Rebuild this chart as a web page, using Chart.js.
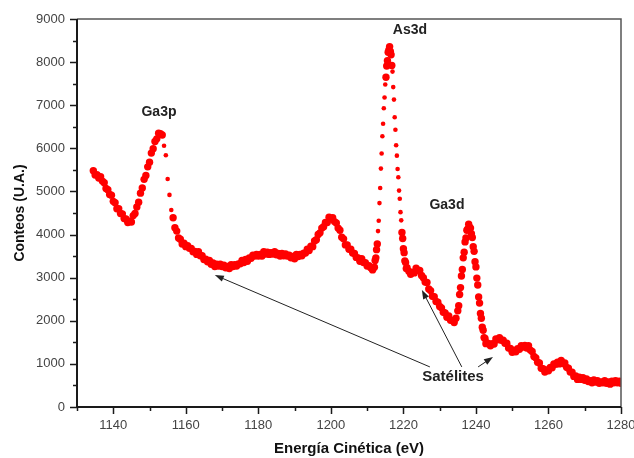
<!DOCTYPE html>
<html lang="es">
<head>
<meta charset="UTF-8">
<title>Espectro Auger - GaAs</title>
<script src="https://cdn.jsdelivr.net/npm/chart.js"></script>
<style>
  html, body { margin: 0; padding: 0; background: #fff; }
  #caja { width: 634px; height: 458px; }
</style>
</head>
<body>
<div id="caja"><canvas id="espectro"></canvas></div>
<script>
const energia = [
  1134.5, 1135, 1135.5, 1136, 1136.5, 1137, 1137.5, 1138, 1138.5, 1139, 1139.5, 1140,
  1140.5, 1141, 1141.5, 1142, 1142.5, 1143, 1143.5, 1144, 1144.5, 1145, 1145.5, 1146,
  1146.5, 1147, 1147.5, 1148, 1148.5, 1149, 1149.5, 1150, 1150.5, 1151, 1151.5, 1152,
  1152.5, 1153, 1153.5, 1154, 1154.5, 1155, 1155.5, 1156, 1156.5, 1157, 1157.5, 1158,
  1158.5, 1159, 1159.5, 1160, 1160.5, 1161, 1161.5, 1162, 1162.5, 1163, 1163.5, 1164,
  1164.5, 1165, 1165.5, 1166, 1166.5, 1167, 1167.5, 1168, 1168.5, 1169, 1169.5, 1170,
  1170.5, 1171, 1171.5, 1172, 1172.5, 1173, 1173.5, 1174, 1174.5, 1175, 1175.5, 1176,
  1176.5, 1177, 1177.5, 1178, 1178.5, 1179, 1179.5, 1180, 1180.5, 1181, 1181.5, 1182,
  1182.5, 1183, 1183.5, 1184, 1184.5, 1185, 1185.5, 1186, 1186.5, 1187, 1187.5, 1188,
  1188.5, 1189, 1189.5, 1190, 1190.5, 1191, 1191.5, 1192, 1192.5, 1193, 1193.5, 1194,
  1194.5, 1195, 1195.5, 1196, 1196.5, 1197, 1197.5, 1198, 1198.5, 1199, 1199.5, 1200,
  1200.5, 1201, 1201.5, 1202, 1202.5, 1203, 1203.5, 1204, 1204.5, 1205, 1205.5, 1206,
  1206.5, 1207, 1207.5, 1208, 1208.5, 1209, 1209.5, 1210, 1210.5, 1211, 1211.5,
  1212.0, 1212.2, 1212.4, 1212.6, 1212.8, 1213.0, 1213.2, 1213.4, 1213.6, 1213.8,
  1214.0, 1214.2, 1214.4, 1214.6, 1214.8, 1215.0, 1215.2, 1215.4, 1215.6, 1215.8,
  1216.0, 1216.2, 1216.4, 1216.6, 1216.8, 1217.0, 1217.2, 1217.4, 1217.6, 1217.8,
  1218.0, 1218.2, 1218.4, 1218.6, 1218.8, 1219.0, 1219.2, 1219.4, 1219.6, 1219.8,
  1220.0, 1220.2, 1220.4, 1220.6, 1220.8, 1221.0,
  1221.5, 1222, 1222.5, 1223, 1223.5, 1224, 1224.5, 1225, 1225.5, 1226, 1226.5, 1227,
  1227.5, 1228, 1228.5, 1229, 1229.5, 1230, 1230.5, 1231, 1231.5, 1232, 1232.5, 1233,
  1233.5, 1234, 1234.5,
  1235, 1235.25, 1235.5, 1235.75, 1236, 1236.25, 1236.5, 1236.75, 1237, 1237.25,
  1237.5, 1237.75, 1238, 1238.25, 1238.5, 1238.75, 1239, 1239.25, 1239.5, 1239.75,
  1240, 1240.25, 1240.5, 1240.75, 1241, 1241.25, 1241.5, 1241.75, 1242, 1242.25,
  1242.5, 1242.75, 1243,
  1243.5, 1244, 1244.5, 1245, 1245.5, 1246, 1246.5, 1247, 1247.5, 1248, 1248.5, 1249,
  1249.5, 1250, 1250.5, 1251, 1251.5, 1252, 1252.5, 1253, 1253.5, 1254, 1254.5, 1255,
  1255.5, 1256, 1256.5, 1257, 1257.5, 1258, 1258.5, 1259, 1259.5, 1260, 1260.5, 1261,
  1261.5, 1262, 1262.5, 1263, 1263.5, 1264, 1264.5, 1265, 1265.5, 1266, 1266.5, 1267,
  1267.5, 1268, 1268.5, 1269, 1269.5, 1270, 1270.5, 1271, 1271.5, 1272, 1272.5, 1273,
  1273.5, 1274, 1274.5, 1275, 1275.5, 1276, 1276.5, 1277, 1277.5, 1278, 1278.5, 1279,
  1279.5, 1280
];

const conteos = [
  5480, 5380, 5390, 5310, 5340, 5240, 5200, 5070, 5040, 4930, 4910, 4770,
  4740, 4600, 4600, 4490, 4480, 4370, 4360, 4280, 4310, 4290, 4440, 4490,
  4640, 4750, 4960, 5080, 5280, 5370, 5570, 5680, 5890, 5990, 6160, 6220,
  6350, 6340, 6310, 6060, 5840, 5290, 4920, 4570, 4390, 4160, 4080, 3920,
  3890, 3780, 3800, 3720, 3740, 3680, 3680, 3600, 3610, 3540, 3600, 3510,
  3510, 3420, 3430, 3370, 3400, 3310, 3340, 3260, 3310, 3270, 3310, 3260,
  3290, 3230, 3260, 3210, 3300, 3260, 3300, 3270, 3320, 3320, 3400, 3350,
  3420, 3380, 3460, 3450, 3520, 3500, 3540, 3500, 3540, 3500, 3600, 3550,
  3590, 3540, 3580, 3550, 3600, 3530, 3560, 3500, 3560, 3510, 3550, 3500,
  3520, 3460, 3490, 3440, 3540, 3490, 3540, 3510, 3570, 3570, 3660, 3630,
  3730, 3720, 3850, 3880, 4000, 4040, 4150, 4180, 4280, 4280, 4400, 4370,
  4390, 4300, 4270, 4150, 4100, 3940, 3900, 3760, 3760, 3660, 3660, 3570,
  3560, 3470, 3460, 3380, 3440, 3350, 3350, 3270, 3280, 3230, 3180,
  3240, 3400, 3460, 3650, 3780, 4080, 4320, 4730, 5080, 5530,
  5880, 6280, 6570, 6930, 7180, 7480, 7650, 7910, 8030, 8230,
  8280, 8360, 8250, 8170, 7920, 7780, 7420, 7130, 6720, 6430,
  6070, 5830, 5520, 5330, 5020, 4830, 4520, 4330, 4050, 3910,
  3670, 3580, 3390, 3350, 3210, 3230,
  3150, 3080, 3120, 3110, 3220, 3170, 3170, 3050, 3000, 2900, 2890, 2740,
  2700, 2570, 2560, 2450, 2430, 2330, 2300, 2200, 2180, 2080, 2110, 2010,
  2010, 1960, 2060,
  2230, 2350, 2610, 2770, 3040, 3190, 3460, 3590, 3830, 3920,
  4100, 4130, 4240, 4170, 4150, 4020, 3930, 3720, 3610, 3370,
  3250, 2990, 2830, 2550, 2410, 2170, 2060, 1850, 1780, 1610,
  1590, 1470, 1490,
  1470, 1420, 1470, 1460, 1580, 1560, 1610, 1550, 1550, 1480, 1480, 1370,
  1360, 1270, 1310, 1280, 1350, 1340, 1420, 1390, 1430, 1370, 1420, 1320,
  1290, 1170, 1140, 1040, 1020, 900, 890, 810, 860, 840, 920, 910,
  1000, 990, 1040, 1000, 1080, 1010, 1020, 920, 900, 810, 810, 710,
  720, 640, 690, 640, 680, 620, 650, 590, 610, 560, 630, 580,
  610, 550, 580, 560, 610, 550, 580, 530, 600, 560, 610, 560,
  600, 550
];

const ticksX = [1140, 1160, 1180, 1200, 1220, 1240, 1260, 1280];
const ticksY = [0, 1000, 2000, 3000, 4000, 5000, 6000, 7000, 8000, 9000];

// rotulos de los picos y flechas de satelites (coordenadas de datos)
const rotulos = [
  { texto: 'Ga3p', x: 1152.6, y: 6840 },
  { texto: 'As3d', x: 1221.8, y: 8745 },
  { texto: 'Ga3d', x: 1232.0, y: 4690 },
  { texto: 'Satélites', x: 1233.7, y: 700 }
];
const flechas = [
  [1227.3, 930, 1168.0, 3060],
  [1236.1, 930, 1225.1, 2715],
  [1240.6, 930, 1244.7, 1160]
];

// puntos mas finos donde la curva sube o baja muy rapido
function radioPunto(c) {
  const i = c.dataIndex;
  const a = conteos[Math.max(i - 1, 0)];
  const b = conteos[Math.min(i + 1, conteos.length - 1)];
  return Math.abs(b - a) > 450 ? 2.3 : 3.7;
}

const ejes = {
  id: 'ejes',
  afterDraw(chart) {
    const { ctx, chartArea: a, scales: { x, y } } = chart;
    ctx.save();

    // marco superior y derecho
    ctx.strokeStyle = '#555';
    ctx.lineWidth = 1.5;
    ctx.beginPath();
    ctx.moveTo(a.left, a.top);
    ctx.lineTo(a.right, a.top);
    ctx.lineTo(a.right, a.bottom);
    ctx.stroke();

    // ejes izquierdo e inferior
    ctx.strokeStyle = '#1a1a1a';
    ctx.lineWidth = 2;
    ctx.beginPath();
    ctx.moveTo(a.left, a.top);
    ctx.lineTo(a.left, a.bottom);
    ctx.lineTo(a.right, a.bottom);
    ctx.stroke();

    // marcas
    ctx.lineWidth = 1.5;
    ctx.beginPath();
    for (let v = 1130; v <= 1280; v += 10) {
      const px = Math.round(x.getPixelForValue(v)) + 0.5;
      const len = v % 20 === 0 ? 7 : 4;
      ctx.moveTo(px, a.bottom);
      ctx.lineTo(px, a.bottom + len);
    }
    for (let v = 0; v <= 9000; v += 500) {
      const py = Math.round(y.getPixelForValue(v)) + 0.5;
      const len = v % 1000 === 0 ? 7 : 4;
      ctx.moveTo(a.left, py);
      ctx.lineTo(a.left - len, py);
    }
    ctx.stroke();

    // rotulos
    ctx.fillStyle = '#222';
    ctx.textAlign = 'center';
    ctx.textBaseline = 'middle';
    rotulos.forEach(r => {
      ctx.font = r.texto === 'Satélites' ? 'bold 15px "Liberation Sans", Arial, sans-serif'
                                          : 'bold 14px "Liberation Sans", Arial, sans-serif';
      ctx.fillText(r.texto, x.getPixelForValue(r.x), y.getPixelForValue(r.y));
    });

    // flechas
    ctx.strokeStyle = '#222';
    ctx.lineWidth = 1;
    flechas.forEach(f => {
      const x0 = x.getPixelForValue(f[0]), y0 = y.getPixelForValue(f[1]);
      const x1 = x.getPixelForValue(f[2]), y1 = y.getPixelForValue(f[3]);
      const ang = Math.atan2(y1 - y0, x1 - x0);
      ctx.beginPath();
      ctx.moveTo(x0, y0);
      ctx.lineTo(x1 - 6 * Math.cos(ang), y1 - 6 * Math.sin(ang));
      ctx.stroke();
      ctx.beginPath();
      ctx.moveTo(x1, y1);
      ctx.lineTo(x1 - 9 * Math.cos(ang) + 3.2 * Math.sin(ang), y1 - 9 * Math.sin(ang) - 3.2 * Math.cos(ang));
      ctx.lineTo(x1 - 9 * Math.cos(ang) - 3.2 * Math.sin(ang), y1 - 9 * Math.sin(ang) + 3.2 * Math.cos(ang));
      ctx.closePath();
      ctx.fill();
    });
    ctx.restore();
  }
};

const fuenteTicks = { family: '"Liberation Sans", Arial, sans-serif', size: 13 };

new Chart(document.getElementById('espectro'), {
  type: 'scatter',
  data: {
    datasets: [{
      data: energia.map((e, i) => ({ x: e, y: conteos[i] })),
      backgroundColor: '#ff0000',
      borderWidth: 0,
      pointRadius: radioPunto,
      pointHoverRadius: radioPunto
    }]
  },
  options: {
    responsive: true,
    maintainAspectRatio: false,
    animation: false,
    layout: { padding: { left: 0, right: 13, top: 19, bottom: 0 } },
    plugins: { legend: { display: false }, tooltip: { enabled: false } },
    scales: {
      x: {
        type: 'linear',
        min: 1130,
        max: 1280,
        grid: { display: false, drawTicks: false },
        border: { display: false },
        afterBuildTicks: s => { s.ticks = ticksX.map(v => ({ value: v })); },
        afterFit: s => { s.height = 51; s.paddingLeft = 0; s.paddingRight = 0; },
        ticks: {
          padding: 11,
          color: '#444',
          font: fuenteTicks,
          maxRotation: 0,
          callback: v => String(v)
        },
        title: {
          display: true,
          text: 'Energía Cinética (eV)',
          color: '#111',
          font: { family: '"Liberation Sans", Arial, sans-serif', size: 15, weight: 'bold' },
          padding: { top: 0, bottom: 0 }
        }
      },
      y: {
        min: 0,
        max: 9000,
        grid: { display: false, drawTicks: false },
        border: { display: false },
        afterBuildTicks: s => { s.ticks = ticksY.map(v => ({ value: v })); },
        afterFit: s => { s.width = 77; s.paddingTop = 0; s.paddingBottom = 0; },
        ticks: {
          padding: 12,
          color: '#444',
          font: fuenteTicks,
          callback: v => String(v)
        },
        title: {
          display: true,
          text: 'Conteos (U.A.)',
          color: '#111',
          font: { family: '"Liberation Sans", Arial, sans-serif', size: 14, weight: 'bold' },
          padding: { top: 12, bottom: 0 }
        }
      }
    }
  },
  plugins: [ejes]
});
</script>
</body>
</html>
